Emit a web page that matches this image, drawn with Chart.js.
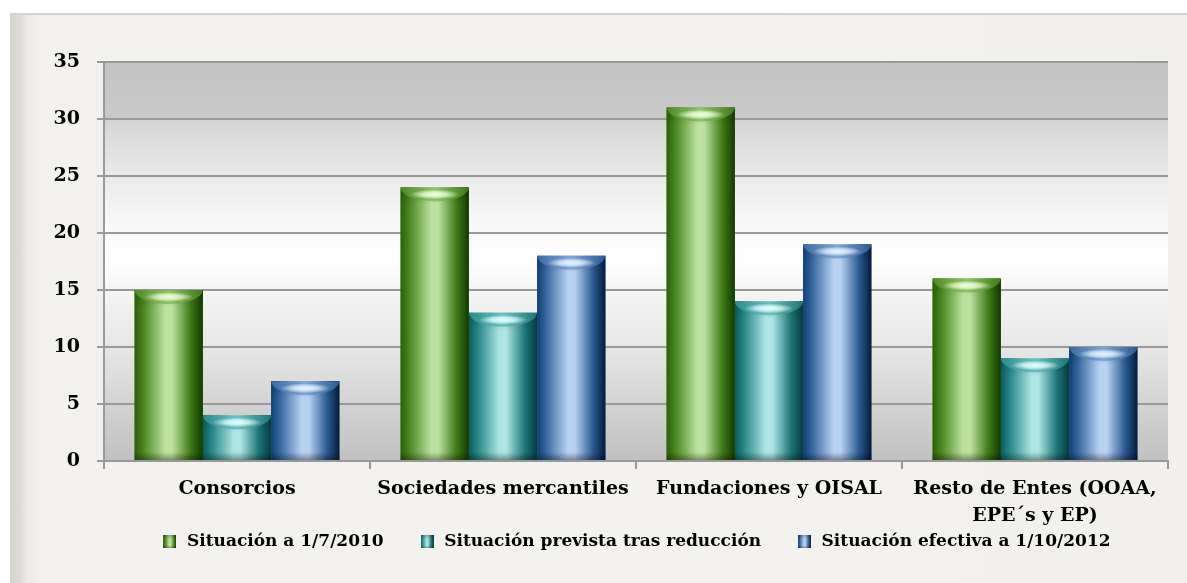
<!DOCTYPE html>
<html><head><meta charset="utf-8">
<script src="https://cdn.jsdelivr.net/npm/chart.js@4.4.1/dist/chart.umd.min.js"></script>
<style>
html,body{margin:0;padding:0;background:#fff;width:1187px;height:583px;overflow:hidden}
#frame{position:absolute;left:10px;top:13px;width:1177px;height:570px;
background:linear-gradient(90deg,#d6d3cf 0px,#dedbd7 10px,#ebe9e6 18px,#f3f1ee 30px,#f4f2ef 600px,#f2f0ed 100%);
border-top:2px solid #d2d2d2;}
canvas{position:absolute;left:0;top:0}
</style></head><body>
<div id="frame"></div>
<canvas id="c" width="1187" height="583"></canvas>
<script>
// ---- data ----
const categories = ['Consorcios', 'Sociedades mercantiles', 'Fundaciones y OISAL', ['Resto de Entes (OOAA,', 'EPE´s y EP)']];
const seriesNames = ['Situación a 1/7/2010', 'Situación prevista tras reducción', 'Situación efectiva a 1/10/2012'];
const situacion2010 = [15, 24, 31, 16];
const situacionPrevista = [4, 13, 14, 9];
const situacionEfectiva2012 = [7, 18, 19, 10];
const yMin = 0, yMax = 35, yStep = 5;

// ---- styles ----
const palettes = [
  {d0: '#2c5f0c', m0: '#4e8a22', l: '#bde2a0', m1: '#3f7a16', d1: '#123a02', face: '#8fc46a', hi: 'rgba(240,255,220,'},
  {d0: '#0b5d5e', m0: '#2a8a8a', l: '#ace5e4', m1: '#1d7676', d1: '#063c42', face: '#6cc2c2', hi: 'rgba(228,255,255,'},
  {d0: '#0f3f73', m0: '#3a6aa3', l: '#b9d2f2', m1: '#2a5a92', d1: '#031c3c', face: '#7fa6d8', hi: 'rgba(232,244,255,'}
];
const FONT = '"DejaVu Serif", serif';

function cylGradient(ctx, l, r, p) {
  const g = ctx.createLinearGradient(l, 0, r, 0);
  g.addColorStop(0, p.d0); g.addColorStop(0.14, p.m0);
  g.addColorStop(0.45, p.l); g.addColorStop(0.55, p.l);
  g.addColorStop(0.82, p.m1); g.addColorStop(1, p.d1);
  return g;
}
function makeIcon(p) {
  const c = document.createElement('canvas'); c.width = 13; c.height = 13;
  const x = c.getContext('2d');
  x.fillStyle = cylGradient(x, 0, 13, p); x.fillRect(0, 0, 13, 13);
  const gt = x.createLinearGradient(0, 0, 0, 13);
  gt.addColorStop(0, 'rgba(0,0,0,0.25)'); gt.addColorStop(0.3, 'rgba(0,0,0,0)');
  gt.addColorStop(0.8, 'rgba(0,0,0,0)'); gt.addColorStop(1, 'rgba(0,0,0,0.3)');
  x.fillStyle = gt; x.fillRect(0, 0, 13, 13);
  return c;
}
const icons = palettes.map(makeIcon);

const plotBg = {
  id: 'plotBg',
  beforeDraw(chart) {
    const {ctx, chartArea: a} = chart;
    const g = ctx.createLinearGradient(0, a.top, 0, a.bottom);
    g.addColorStop(0, '#c3c3c3'); g.addColorStop(0.14, '#c9c9c9'); g.addColorStop(0.146, '#d5d5d5');
    g.addColorStop(0.28, '#e9e9e9'); g.addColorStop(0.42, '#fafafa'); g.addColorStop(0.5, '#ffffff');
    g.addColorStop(0.57, '#f5f5f5'); g.addColorStop(0.72, '#e6e6e6'); g.addColorStop(0.86, '#d3d3d3');
    g.addColorStop(1, '#c0c0c0');
    ctx.save(); ctx.fillStyle = g; ctx.fillRect(a.left, a.top, a.right - a.left, a.bottom - a.top); ctx.restore();
  }
};

// keeps the legend compact in the layout and places it just under the axis labels
const legendPlace = {
  id: 'legendPlace',
  beforeLayout(chart) {
    const lg = chart.legend;
    if (lg && !lg._wrapped) {
      const orig = lg.fit.bind(lg);
      lg.fit = function () { orig(); this._fullH = this.height; this.height = 22; };
      lg._wrapped = true;
    }
  },
  afterLayout(chart) {
    const lg = chart.legend;
    if (!lg) return;
    const h = lg._fullH || 62;
    lg.top = chart.chartArea.bottom + 37;
    lg.bottom = lg.top + h;
    lg.height = h;
  }
};

const cylinders = {
  id: 'cylinders',
  afterDatasetDraw(chart, args) {
    const ctx = chart.ctx, p = palettes[args.index];
    ctx.save();
    args.meta.data.forEach(el => {
      const e = el.getProps(['x', 'y', 'base', 'width'], true);
      const l = e.x - e.width / 2, r = e.x + e.width / 2;
      const t = Math.min(e.y, e.base), b = Math.max(e.y, e.base), w = r - l, h = b - t;
      ctx.fillStyle = cylGradient(ctx, l, r, p);
      ctx.fillRect(l, t, w, h);
      // bottom shading
      const gb = ctx.createLinearGradient(0, b - 8, 0, b);
      gb.addColorStop(0, 'rgba(0,0,0,0)'); gb.addColorStop(1, 'rgba(0,0,0,0.35)');
      ctx.fillStyle = gb; ctx.fillRect(l, b - 8, w, 8);
      ctx.save();
      ctx.beginPath(); ctx.rect(l, t, w, h); ctx.clip();
      // top darkening
      const gt = ctx.createLinearGradient(0, t, 0, t + 18);
      gt.addColorStop(0, 'rgba(0,0,0,0.15)'); gt.addColorStop(1, 'rgba(0,0,0,0)');
      ctx.fillStyle = gt; ctx.fillRect(l, t, w, 18);
      // top face (lower half ellipse)
      const fh = 14;
      const gf = ctx.createLinearGradient(l, 0, r, 0);
      gf.addColorStop(0, p.m0); gf.addColorStop(0.5, p.face); gf.addColorStop(1, p.m1);
      ctx.fillStyle = gf;
      ctx.beginPath(); ctx.ellipse(e.x, t, w / 2, fh, 0, 0, Math.PI); ctx.closePath(); ctx.fill();
      // glossy highlight
      ctx.translate(e.x, t + 7);
      ctx.scale(1, 0.2);
      const rr = w * 0.36;
      const rg = ctx.createRadialGradient(0, 0, 0, 0, 0, rr);
      rg.addColorStop(0, p.hi + '1)'); rg.addColorStop(0.5, p.hi + '0.75)'); rg.addColorStop(1, p.hi + '0)');
      ctx.fillStyle = rg; ctx.beginPath(); ctx.arc(0, 0, rr, 0, Math.PI * 2); ctx.fill();
      ctx.restore();
    });
    ctx.restore();
  }
};

const seriesData = [situacion2010, situacionPrevista, situacionEfectiva2012];

new Chart(document.getElementById('c'), {
  type: 'bar',
  data: {
    labels: categories,
    datasets: seriesData.map((d, i) => ({
      label: seriesNames[i],
      data: d,
      backgroundColor: palettes[i].m0,
      borderWidth: 0,
      categoryPercentage: 0.77,
      barPercentage: 1.0
    }))
  },
  options: {
    responsive: false,
    animation: false,
    layout: {padding: {left: 0, right: 19, top: 62, bottom: 32}},
    plugins: {
      tooltip: {enabled: false},
      legend: {
        position: 'bottom',
        fullSize: false,
        labels: {
          usePointStyle: true,
          padding: 35,
          color: '#000',
          font: {family: FONT, size: 17, weight: 'bold'},
          generateLabels(chart) {
            const items = Chart.defaults.plugins.legend.labels.generateLabels(chart);
            items.forEach((it, i) => { it.pointStyle = icons[i]; });
            return items;
          }
        }
      }
    },
    scales: {
      x: {
        grid: {drawOnChartArea: false, drawTicks: true, tickLength: 8, color: '#999', lineWidth: 2, offset: true},
        border: {display: true, color: '#999', width: 2},
        ticks: {color: '#000', font: {family: FONT, size: 19, weight: 'bold', lineHeight: 1.42}, maxRotation: 0, autoSkip: false, padding: 7},
        afterFit(s) { s.height = 68; }
      },
      y: {
        min: yMin, max: yMax,
        grid: {color: '#999', lineWidth: 2, tickLength: 7, drawTicks: true},
        border: {display: true, color: '#999', width: 2},
        ticks: {stepSize: yStep, color: '#000', font: {family: FONT, size: 19, weight: 'bold'}, padding: 17},
        afterFit(s) { s.width = 104; }
      }
    }
  },
  plugins: [plotBg, legendPlace, cylinders]
});
</script>
</body></html>
